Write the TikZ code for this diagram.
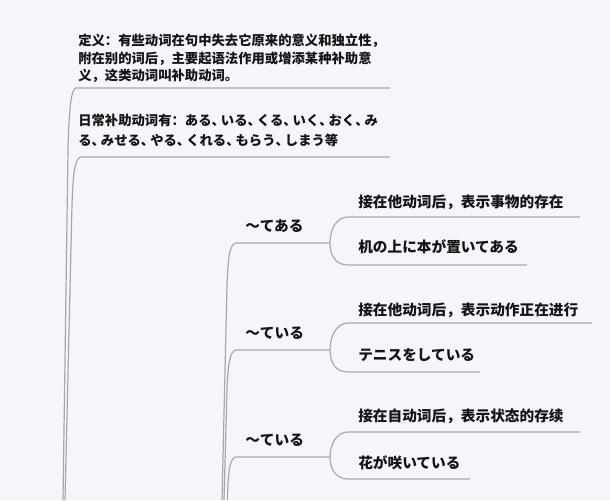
\documentclass[tikz,border=0pt]{standalone}
\usepackage{fontspec}
\setmainfont{Noto Sans CJK SC}
\newcommand\nc{\makebox[0.7em][l]{、}}
\definecolor{bg}{HTML}{F4F6FC}
\definecolor{ln}{HTML}{A6A8AC}
\definecolor{tx}{HTML}{141414}
\tikzset{
  conn/.style={draw=ln, line width=0.9pt},
  lbl/.style={anchor=base west, inner sep=0pt, text=tx, font=\fontsize{10}{12}\selectfont\bfseries},
  big/.style={lbl, font=\fontsize{11}{13}\selectfont\bfseries},
}
\begin{document}
\begin{tikzpicture}[x=0.75pt,y=-0.75pt]
\useasboundingbox (0,0) rectangle (610,500);
\fill[bg] (0,0) rectangle (610,500);

% definition block
\node[lbl] (d1) at (78,45) {定义：有些动词在句中失去它原来的意义和独立性，};
\node[lbl] (d2) at (78,63) {附在别的词后，主要起语法作用或增添某种补助意};
\node[lbl] (d3) at (78,80) {义，这类动词叫补助动词。};
\node[lbl] (c1) at (78,125) {日常补助动词有：ある\nc いる\nc くる\nc いく\nc おく\nc み};
\node[lbl] (c2) at (78,145) {る\nc みせる\nc やる\nc くれる\nc もらう\nc しまう等};

% sub branches
\node[big] (t1) at (245,231) {～てある};
\node[big] (t2) at (245,338) {～ている};
\node[big] (t3) at (245,445) {～ている};

\node[big] (a1) at (358,207) {接在他动词后，表示事物的存在};
\node[big] (a2) at (358,252) {机の上に本が置いてある};
\node[big] (b1) at (358,315) {接在他动词后，表示动作正在进行};
\node[big] (b2) at (358,360) {テニスをしている};
\node[big] (e1) at (358,421) {接在自动词后，表示状态的存续};
\node[big] (e2) at (358,468) {花が咲いている};

% coordinates
\coordinate (dR) at (390,88);  \coordinate (dL) at (76,88);
\coordinate (cR) at (390,157); \coordinate (cL) at (81,157);
\coordinate (trunkA) at (63,500); \coordinate (trunkB) at (65,500);
\coordinate (t1R) at (330,243); \coordinate (t1L) at (236,243);
\coordinate (t2R) at (330,350); \coordinate (t2L) at (236,350);
\coordinate (t3R) at (330,457); \coordinate (t3L) at (236,457);
\coordinate (subA) at (222,500); \coordinate (subB) at (224,500);
\coordinate (a1R) at (580,217); \coordinate (a2R) at (527,265);
\coordinate (b1R) at (592,323); \coordinate (b2R) at (480,372);
\coordinate (e1R) at (580,432); \coordinate (e2R) at (470,479);

% trunk
\draw[conn] (dR) -- (dL) .. controls (71,89) and (69,110) .. (68,150) -- (trunkA);
\draw[conn] (cR) -- (cL) .. controls (75,158) and (73,172) .. (72,205) -- (trunkB);

% sub trunk
\draw[conn] (t1R) -- (t1L) .. controls (230,244) and (228,256) .. (227,285) -- (subA);
\draw[conn] (t2R) -- (t2L) .. controls (230,351) and (228,363) .. (227,390) -- (subB);
\draw[conn] (t3R) -- (t3L) .. controls (230,458) and (228,470) .. (227.5,500);

% brackets
\draw[conn] (a1R) -- (348,217) .. controls (336,217) and (330,230) .. (t1R)
  .. controls (330,256) and (336,265) .. (348,265) -- (a2R);
\draw[conn] (b1R) -- (348,323) .. controls (336,323) and (330,337) .. (t2R)
  .. controls (330,363) and (336,372) .. (348,372) -- (b2R);
\draw[conn] (e1R) -- (348,432) .. controls (336,432) and (330,445) .. (t3R)
  .. controls (330,469) and (336,479) .. (348,479) -- (e2R);
\end{tikzpicture}
\end{document}
